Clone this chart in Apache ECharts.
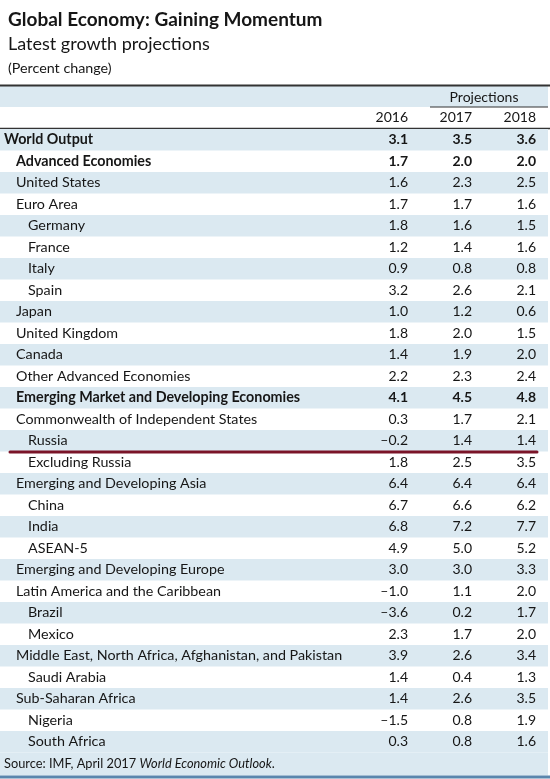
<!DOCTYPE html>
<html><head><meta charset="utf-8">
<script src="https://cdn.jsdelivr.net/npm/echarts@6/dist/echarts.min.js"></script>
<style>html,body{margin:0;padding:0;background:#fff}#c{width:550px;height:779px}</style>
</head><body><div id="c"></div><script>
const names = ['World Output','Advanced Economies','United States','Euro Area','Germany','France','Italy','Spain','Japan','United Kingdom','Canada','Other Advanced Economies','Emerging Market and Developing Economies','Commonwealth of Independent States','Russia','Excluding Russia','Emerging and Developing Asia','China','India','ASEAN-5','Emerging and Developing Europe','Latin America and the Caribbean','Brazil','Mexico','Middle East, North Africa, Afghanistan, and Pakistan','Saudi Arabia','Sub-Saharan Africa','Nigeria','South Africa'];
const levels = [0,1,1,1,2,2,2,2,1,1,1,1,1,1,2,2,1,2,2,2,1,1,2,2,1,2,1,2,2];
const boldRows = ['World Output','Advanced Economies','Emerging Market and Developing Economies'];
const years = ['2016','2017','2018'];
const v2016 = [3.1,1.7,1.6,1.7,1.8,1.2,0.9,3.2,1.0,1.8,1.4,2.2,4.1,0.3,-0.2,1.8,6.4,6.7,6.8,4.9,3.0,-1.0,-3.6,2.3,3.9,1.4,1.4,-1.5,0.3];
const v2017 = [3.5,2.0,2.3,1.7,1.6,1.4,0.8,2.6,1.2,2.0,1.9,2.3,4.5,1.7,1.4,2.5,6.4,6.6,7.2,5.0,3.0,1.1,0.2,1.7,2.6,0.4,2.6,0.8,0.8];
const v2018 = [3.6,2.0,2.5,1.6,1.5,1.6,0.8,2.1,0.6,1.5,2.0,2.4,4.8,2.1,1.4,3.5,6.4,6.2,7.7,5.2,3.3,2.0,1.7,2.0,3.4,1.3,3.5,1.9,1.6];
const underlinedRow = 'Russia';
const titleText = 'Global Economy: Gaining Momentum';
const subtitleText = 'Latest growth projections';
const unitText = '(Percent change)';
const headerGroup = 'Projections';

const FONT = 'Lato, "Noto Sans", sans-serif';
const BAND = '#dbe9f1';
const INK = '#161616';
const fmt = v => v.toFixed(1).replace('-', '\u2013');

const chart = echarts.init(document.getElementById('c'), null, {renderer:'canvas'});
const data = names.map((n,i)=>[i, v2016[i], v2017[i], v2018[i]]);

function renderItem(params, api){
  const i = api.value(0);
  const rowH = api.size([0,1])[1];
  const cy = api.coord([0,i])[1];
  const W = api.getWidth();
  const bold = boldRows.indexOf(names[i]) >= 0;
  const weight = bold ? 'bold ' : '';
  const children = [];
  if (i % 2 === 0) {
    children.push({type:'rect', shape:{x:0, y:cy-rowH/2, width:W-2, height:rowH}, style:{fill:BAND}});
  }
  children.push({type:'text', style:{text:names[i], x:4+levels[i]*12, y:cy, align:'left', verticalAlign:'middle', font:weight+'14.3px '+FONT, fill:INK}});
  for (let c=0;c<3;c++){
    const p = api.coord([c, i]);
    children.push({type:'text', style:{text:fmt(api.value(c+1)), x:p[0], y:cy, align:'right', verticalAlign:'middle', font:weight+'14px '+FONT, fill:INK}});
  }
  if (names[i] === underlinedRow) {
    children.push({type:'line', shape:{x1:10, y1:cy+rowH/2+0.5, x2:api.coord([2,i])[0]+1, y2:cy+rowH/2+0.5}, style:{stroke:'#7a1428', lineWidth:3, lineCap:'round'}});
  }
  return {type:'group', children};
}

const option = {
  animation:false,
  backgroundColor:'#fff',
  grid:{left:408, right:14, top:129, bottom:26.5, outerBoundsMode:'none'},
  xAxis:{type:'value', min:0, max:2, interval:1, position:'top',
    axisLine:{show:false}, axisTick:{show:false}, splitLine:{show:false},
    axisLabel:{formatter:v=>years[v], align:'right', margin:5, fontFamily:FONT, fontSize:14, color:INK}},
  yAxis:{type:'category', data:names, inverse:true, show:false},
  graphic:[
    {type:'text', style:{text:titleText, x:8, y:20, verticalAlign:'middle', font:'bold 19px '+FONT, fill:INK}},
    {type:'text', style:{text:subtitleText, x:8, y:44, verticalAlign:'middle', font:'18px '+FONT, fill:INK}},
    {type:'text', style:{text:unitText, x:8, y:68, verticalAlign:'middle', font:'14.3px '+FONT, fill:INK}},
    {type:'rect', shape:{x:0, y:86, width:548, height:21}, style:{fill:BAND}, z:-1},
    {type:'line', shape:{x1:0, y1:85.5, x2:550, y2:85.5}, style:{stroke:'#333', lineWidth:2}},
    {type:'text', style:{text:headerGroup, x:484, y:97, align:'center', verticalAlign:'middle', font:'14px '+FONT, fill:INK}},
    {type:'line', shape:{x1:430, y1:107, x2:548, y2:107}, style:{stroke:'#333', lineWidth:1}},
    {type:'line', shape:{x1:0, y1:128.5, x2:550, y2:128.5}, style:{stroke:'#333', lineWidth:1.5}},
    {type:'rect', shape:{x:0, y:752.5, width:548, height:23}, style:{fill:BAND}, z:-1},
    {type:'text', style:{x:4, y:764, verticalAlign:'middle',
      text:'{n|Source: IMF, April 2017 }{i|World Economic Outlook}{n|.}',
      rich:{n:{font:'12.8px '+FONT, fill:INK}, i:{font:'italic 12.8px '+FONT, fill:INK}}}},
    {type:'line', shape:{x1:0, y1:777, x2:550, y2:777}, style:{stroke:'#5a86ad', lineWidth:3}}
  ],
  series:[{type:'custom', renderItem, data, encode:{y:0}, clip:false}]
};
chart.setOption(option);
</script></body></html>
